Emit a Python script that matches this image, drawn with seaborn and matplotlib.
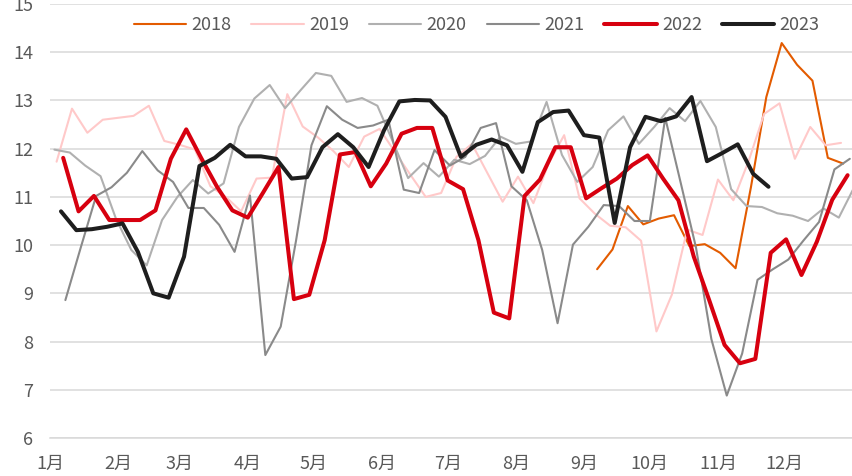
import pandas as pd
import matplotlib
matplotlib.use('Agg')
import matplotlib.pyplot as plt
from matplotlib.lines import Line2D
import seaborn as sns

# weekly series (Friday observations), one list per year
years = ['2018', '2019', '2020', '2021', '2022', '2023']
start_dates = {
    '2018': '2018-09-07',
    '2019': '2019-01-04',
    '2020': '2020-01-03',
    '2021': '2021-01-08',
    '2022': '2022-01-07',
    '2023': '2023-01-06',
}

v2018 = [9.50, 9.91, 10.81, 10.43, 10.55, 10.62, 9.98, 10.02, 9.84, 9.52,
         11.20, 13.07, 14.19, 13.74, 13.41, 11.81, 11.69]

v2019 = [11.73, 12.83, 12.33, 12.60, 12.64, 12.68, 12.89, 12.16, 12.08, 11.98,
         11.22, 11.00, 10.70, 11.38, 11.40, 13.13, 12.46, 12.23, 11.95, 11.62,
         12.25, 12.41, 11.93, 11.46, 11.00, 11.08, 11.83, 12.10, 11.50, 10.90,
         11.42, 10.87, 11.70, 12.28, 10.97, 10.65, 10.40, 10.37, 10.09, 8.21,
         8.97, 10.32, 10.21, 11.36, 10.93, 11.75, 12.72, 12.94, 11.79, 12.45,
         12.07, 12.12]

v2020 = [11.98, 11.92, 11.65, 11.43, 10.55, 9.90, 9.58, 10.52, 11.00, 11.35,
         11.07, 11.28, 12.45, 13.04, 13.32, 12.84, 13.21, 13.57, 13.51, 12.97,
         13.05, 12.89, 12.15, 11.39, 11.70, 11.42, 11.77, 11.68, 11.85, 12.25,
         12.10, 12.15, 12.97, 11.87, 11.31, 11.62, 12.38, 12.67, 12.10, 12.45,
         12.84, 12.57, 12.99, 12.45, 11.16, 10.81, 10.79, 10.66, 10.61, 10.50,
         10.76, 10.57, 11.20]

v2021 = [8.86, 9.95, 11.02, 11.20, 11.50, 11.95, 11.55, 11.31, 10.77, 10.77,
         10.42, 9.86, 11.03, 7.72, 8.31, 10.10, 12.07, 12.88, 12.60, 12.43,
         12.48, 12.60, 11.15, 11.08, 11.97, 11.65, 11.83, 12.43, 12.53, 11.22,
         10.93, 9.90, 8.38, 10.01, 10.38, 10.83, 10.81, 10.50, 10.50, 12.64,
         11.30, 9.95, 8.05, 6.88, 7.75, 9.28, 9.50, 9.70, 10.10, 10.48,
         11.57, 11.79]

v2022 = [11.81, 10.70, 11.02, 10.52, 10.52, 10.52, 10.72, 11.79, 12.40, 11.79,
         11.21, 10.72, 10.57, 11.09, 11.62, 8.88, 8.97, 10.10, 11.88, 11.93,
         11.22, 11.69, 12.31, 12.43, 12.43, 11.34, 11.16, 10.10, 8.60, 8.48,
         11.02, 11.36, 12.03, 12.03, 10.97, 11.18, 11.38, 11.66, 11.86, 11.38,
         10.93, 9.76, 8.86, 7.93, 7.55, 7.64, 9.84, 10.12, 9.38, 10.07,
         10.94, 11.45]

v2023 = [10.70, 10.31, 10.33, 10.38, 10.45, 9.86, 9.00, 8.91, 9.76, 11.64,
         11.81, 12.08, 11.84, 11.84, 11.79, 11.38, 11.41, 12.03, 12.30, 12.03,
         11.62, 12.38, 12.98, 13.01, 13.00, 12.66, 11.83, 12.08, 12.19, 12.07,
         11.52, 12.55, 12.76, 12.79, 12.28, 12.23, 10.46, 12.03, 12.66, 12.57,
         12.67, 13.07, 11.74, 11.91, 12.09, 11.48, 11.21]

month_labels = ['1月', '2月', '3月', '4月', '5月', '6月',
                '7月', '8月', '9月', '10月', '11月', '12月', '']

colors = {'2018': '#E35B00', '2019': '#FFC9C9', '2020': '#B0B0B0',
          '2021': '#8A8A8A', '2022': '#D7000F', '2023': '#1E1E1E'}
widths = {'2018': 1.5, '2019': 1.5, '2020': 1.5,
          '2021': 1.5, '2022': 2.9, '2023': 2.9}

series = {'2018': v2018, '2019': v2019, '2020': v2020,
          '2021': v2021, '2022': v2022, '2023': v2023}

frames = []
for yr in years:
    vals = series[yr]
    dates = pd.date_range(start_dates[yr], periods=len(vals), freq='7D')
    day = (dates - pd.Timestamp(f'{yr}-01-01')).days
    frames.append(pd.DataFrame({'day': day, 'value': vals, 'year': yr}))
df = pd.concat(frames, ignore_index=True)

sns.set_style('white')
plt.rcParams['font.family'] = ['Noto Sans CJK SC', 'DejaVu Sans']

fig = plt.figure(figsize=(8.52, 4.76), dpi=100)
ax = fig.add_axes([50 / 852, 38 / 476, 802 / 852, 434 / 476])

sns.lineplot(data=df, x='day', y='value', hue='year', size='year',
             hue_order=years, size_order=years,
             palette=colors, sizes=widths, estimator=None, sort=False,
             legend=False, ax=ax, solid_joinstyle='round')

grid_c = '#D9D9D9'
text_c = '#595959'

ax.set_xlim(0, 365)
ax.set_ylim(6, 15)
ax.set_yticks(range(6, 16))
month_starts = (pd.date_range('2023-01-01', periods=13, freq='MS').dayofyear - 1).tolist()
month_starts[-1] = 365
ax.set_xticks(month_starts)
ax.set_xticklabels(month_labels)

ax.grid(axis='y', color=grid_c, lw=1.1)
ax.grid(axis='x', visible=False)
ax.set_axisbelow(True)
for s in ['left', 'right', 'top']:
    ax.spines[s].set_visible(False)
ax.spines['bottom'].set_color(grid_c)
ax.spines['bottom'].set_linewidth(1.1)

ax.tick_params(axis='x', length=5, width=1.1, color=grid_c,
               labelcolor=text_c, labelsize=13, pad=7)
ax.tick_params(axis='y', length=0, labelcolor=text_c, labelsize=13, pad=12)
ax.set_xlabel('')
ax.set_ylabel('')

handles = [Line2D([0], [0], color=colors[y], lw=widths[y]) for y in years]
ax.legend(handles, years, loc='center', bbox_to_anchor=(0.532, 0.951),
          ncol=6, frameon=False, fontsize=13, handlelength=2.9,
          handletextpad=0.3, columnspacing=1.1, labelcolor=text_c)

fig.savefig('out.png', dpi=100)
